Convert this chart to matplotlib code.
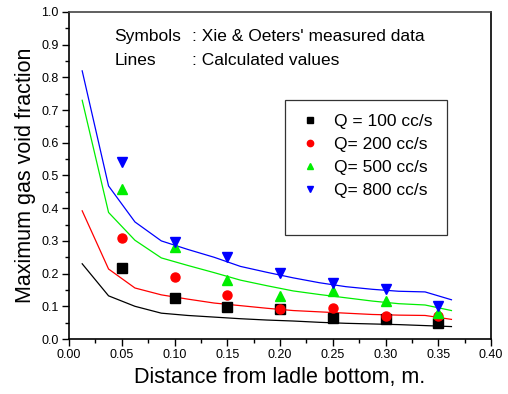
import numpy as np
import matplotlib
matplotlib.use('Agg')
import matplotlib.pyplot as plt
from matplotlib.ticker import MultipleLocator
from matplotlib.lines import Line2D

plt.rcParams['font.family'] = ['Liberation Sans', 'DejaVu Sans']

# calculated values (lines)
x_calc = [0.0125, 0.0375, 0.0625, 0.0875, 0.1125, 0.1375, 0.1625, 0.1875,
          0.2125, 0.2375, 0.2625, 0.2875, 0.3125, 0.3375, 0.3625]
calc_100 = [0.230, 0.132, 0.100, 0.079, 0.072, 0.067, 0.062, 0.058,
            0.055, 0.051, 0.048, 0.046, 0.044, 0.041, 0.038]
calc_200 = [0.392, 0.214, 0.156, 0.135, 0.122, 0.110, 0.102, 0.094,
            0.087, 0.083, 0.079, 0.075, 0.073, 0.072, 0.060]
calc_500 = [0.730, 0.387, 0.302, 0.248, 0.225, 0.203, 0.180, 0.163,
            0.147, 0.136, 0.126, 0.116, 0.108, 0.104, 0.087]
calc_800 = [0.820, 0.468, 0.358, 0.300, 0.274, 0.250, 0.222, 0.204,
            0.187, 0.172, 0.160, 0.152, 0.146, 0.144, 0.120]

# measured data (symbols)
x_meas = [0.05, 0.10, 0.15, 0.20, 0.25, 0.30, 0.35]
meas_100 = [0.217, 0.126, 0.099, 0.091, 0.064, 0.062, 0.048]
meas_200 = [0.308, 0.189, 0.134, 0.093, 0.096, 0.071, 0.069]
meas_500 = [0.460, 0.280, 0.180, 0.130, 0.146, 0.115, 0.081]
meas_800 = [0.540, 0.297, 0.251, 0.202, 0.171, 0.153, 0.102]

labels = ['Q = 100 cc/s', 'Q= 200 cc/s', 'Q= 500 cc/s', 'Q= 800 cc/s']
farger = ['black', 'red', '#00ee00', 'blue']
markers = ['s', 'o', '^', 'v']

fig = plt.figure(figsize=(5.08, 3.94), dpi=100)
ax = fig.add_axes([69/508, 1 - 339/394, (491-69)/508, (339-12)/394])

for yc, f in zip([calc_100, calc_200, calc_500, calc_800], farger):
    ax.plot(x_calc, yc, color=f, lw=0.9)

handles = []
for ym, f, m, lab in zip([meas_100, meas_200, meas_500, meas_800], farger, markers, labels):
    h, = ax.plot(x_meas, ym, linestyle='none', marker=m, color=f, ms=6.5, label=lab)
    handles.append(h)
# tom rad nederst i legenden (boksen har luft under siste linje)
handles.append(Line2D([], [], linestyle='none', label=' '))

ax.set_xlim(0, 0.40)
ax.set_ylim(0, 1.0)
ax.xaxis.set_major_locator(MultipleLocator(0.05))
ax.xaxis.set_minor_locator(MultipleLocator(0.025))
ax.yaxis.set_major_locator(MultipleLocator(0.1))
ax.yaxis.set_minor_locator(MultipleLocator(0.05))
ax.xaxis.set_major_formatter(plt.FormatStrFormatter('%.2f'))
ax.yaxis.set_major_formatter(plt.FormatStrFormatter('%.1f'))
ax.tick_params(which='both', direction='out', labelsize=9, top=False, right=False)
ax.tick_params(which='major', length=5, width=1, pad=2.5)
ax.tick_params(which='minor', length=3, width=1)
for s in ax.spines.values():
    s.set_linewidth(1.2)
ax.spines['top'].set_color('#444444')

ax.set_xlabel('Distance from ladle bottom, m.', fontsize=15.5, labelpad=4)
ax.set_ylabel('Maximum gas void fraction', fontsize=15.5, labelpad=4)

ax.text(0.108, 0.925, 'Symbols', transform=ax.transAxes, fontsize=12.5, va='center')
ax.text(0.292, 0.925, ": Xie & Oeters' measured data", transform=ax.transAxes, fontsize=12.5, va='center')
ax.text(0.108, 0.852, 'Lines', transform=ax.transAxes, fontsize=12.5, va='center')
ax.text(0.292, 0.852, ': Calculated values', transform=ax.transAxes, fontsize=12.5, va='center')

leg = ax.legend(handles=handles, loc='upper left', bbox_to_anchor=((285-69)/422, (339-100)/327),
                fontsize=12.5, frameon=True, fancybox=False, edgecolor='black',
                markerscale=0.7, handlelength=1.25, handletextpad=0.8,
                borderpad=0.8, labelspacing=0.45, borderaxespad=0)
leg.get_frame().set_linewidth(0.9)

fig.savefig('out.png', dpi=100)
